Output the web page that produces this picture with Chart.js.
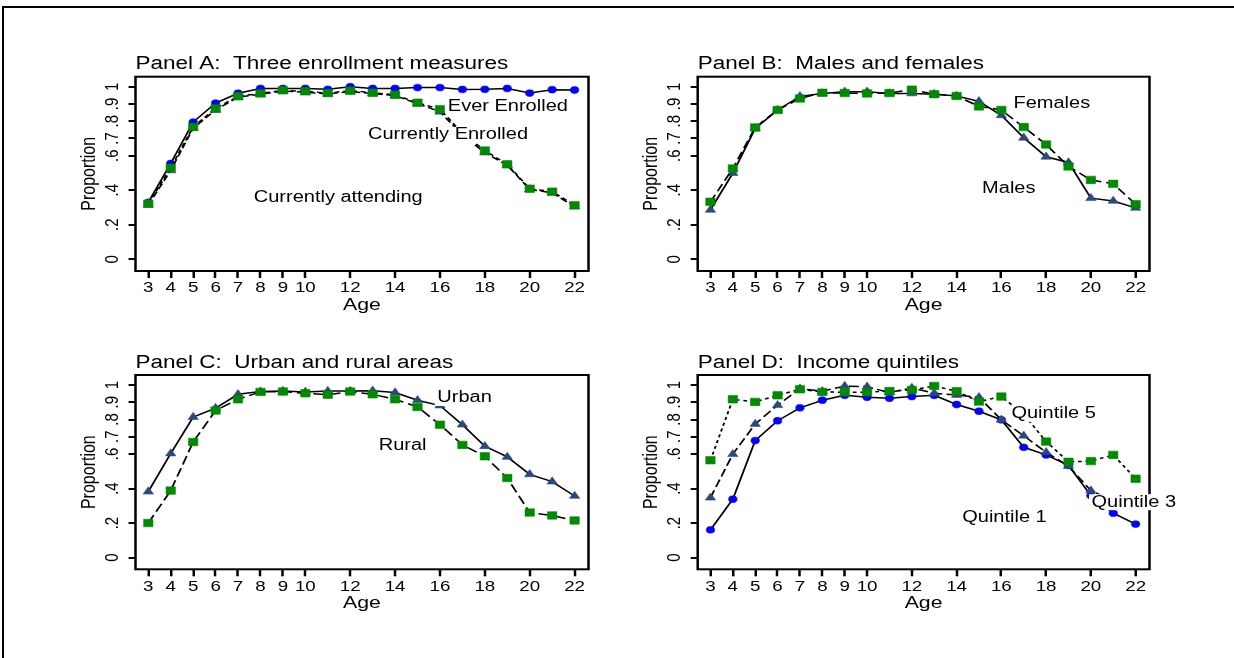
<!DOCTYPE html>
<html>
<head>
<meta charset="utf-8">
<script src="https://cdn.jsdelivr.net/npm/chart.js@4.4.1/dist/chart.umd.min.js"></script>
<style>
  html, body { margin: 0; padding: 0; background: #fff; }
  #wrap { position: relative; width: 1234px; height: 658px; overflow: hidden; background: #fff; }
  #frame { position: absolute; left: 2px; top: 6px; width: 1400px; height: 800px; border: 2px solid #000; box-sizing: border-box; }
  canvas { position: absolute; }
</style>
</head>
<body>
<div id="wrap">
  <div id="frame"></div>
  <canvas id="cA" width="617" height="300" style="left:0px;top:30px;width:617px;height:300px"></canvas>
  <canvas id="cB" width="617" height="300" style="left:617px;top:30px;width:617px;height:300px"></canvas>
  <canvas id="cC" width="617" height="300" style="left:0px;top:330px;width:617px;height:300px"></canvas>
  <canvas id="cD" width="617" height="300" style="left:617px;top:330px;width:617px;height:300px"></canvas>
</div>
<script>
// ---------------- data ----------------
const ages = [3, 4, 5, 6, 7, 8, 9, 10, 11, 12, 13, 14, 15, 16, 17, 18, 19, 20, 21, 22];
const xTicks = [3, 4, 5, 6, 7, 8, 9, 10, 12, 14, 16, 18, 20, 22];
const yTicks = [0, 0.2, 0.4, 0.6, 0.7, 0.8, 0.9, 1];

const titleA = 'Panel A:  Three enrollment measures';
const titleB = 'Panel B:  Males and females';
const titleC = 'Panel C:  Urban and rural areas';
const titleD = 'Panel D:  Income quintiles';

// Panel A
const everEnrolled       = [0.330, 0.555, 0.795, 0.905, 0.962, 0.990, 0.990, 0.990, 0.985, 1.000, 0.990, 0.990, 0.995, 0.995, 0.984, 0.985, 0.990, 0.963, 0.983, 0.981];
const currentlyEnrolled  = [0.315, 0.515, 0.760, 0.865, 0.940, 0.957, 0.975, 0.968, 0.958, 0.972, 0.960, 0.948, 0.902, 0.855, 0.720, 0.618, 0.545, 0.405, 0.385, 0.305];
const currentlyAttending = [0.322, 0.530, 0.767, 0.874, 0.944, 0.961, 0.979, 0.973, 0.963, 0.977, 0.965, 0.953, 0.907, 0.870, 0.730, 0.630, 0.550, 0.409, 0.392, 0.313];
// Panel B
const males   = [0.286, 0.499, 0.758, 0.865, 0.944, 0.961, 0.971, 0.971, 0.961, 0.961, 0.957, 0.946, 0.915, 0.834, 0.704, 0.594, 0.561, 0.354, 0.338, 0.298];
const females = [0.333, 0.526, 0.764, 0.865, 0.932, 0.965, 0.963, 0.961, 0.963, 0.983, 0.957, 0.946, 0.886, 0.865, 0.766, 0.665, 0.538, 0.460, 0.437, 0.319];
// Panel C
const urban = [0.382, 0.603, 0.814, 0.866, 0.946, 0.962, 0.965, 0.960, 0.965, 0.965, 0.967, 0.956, 0.912, 0.881, 0.770, 0.645, 0.583, 0.482, 0.440, 0.357];
const rural = [0.200, 0.388, 0.670, 0.852, 0.917, 0.960, 0.962, 0.952, 0.944, 0.962, 0.946, 0.917, 0.873, 0.770, 0.653, 0.587, 0.461, 0.261, 0.244, 0.215];
// Panel D
const quintile1 = [0.161, 0.338, 0.678, 0.793, 0.868, 0.912, 0.940, 0.929, 0.923, 0.933, 0.940, 0.887, 0.848, 0.798, 0.639, 0.595, 0.534, 0.359, 0.257, 0.194];
const quintile3 = [0.347, 0.599, 0.774, 0.883, 0.979, 0.964, 0.994, 0.990, 0.956, 0.983, 0.952, 0.942, 0.929, 0.798, 0.706, 0.610, 0.530, 0.388, 0.330, 0.310];
const quintile5 = [0.564, 0.917, 0.902, 0.940, 0.975, 0.960, 0.958, 0.958, 0.965, 0.971, 0.994, 0.964, 0.904, 0.933, 0.830, 0.672, 0.555, 0.559, 0.595, 0.457];

// ---------------- styling / layout ----------------
const FONT = "'Liberation Sans', Arial, Helvetica, sans-serif";
const K = 1.25;              // horizontal stretch of the original export
const BLUE = '#0000ff', NAVY = '#2b4a7c', GREEN = '#008a00';
const W = 617, H = 300;

const S_CIRCLE = (c) => ({ marker: 'circle', r: 3.4, color: c });
const S_TRI = (c) => ({ marker: 'triangle', r: 4.8, color: c });
const S_RECT = (c) => ({ marker: 'rect', r: 5.3, color: c });

const panels = [
  { id: 'cA', title: titleA, cl: 0, ct: 30, box: [135.5, 588.5, 76.7, 271], titleCY: 63.8,
    series: [
      Object.assign({ name: 'Ever Enrolled', values: everEnrolled, dash: [] }, S_CIRCLE(BLUE)),
      Object.assign({ name: 'Currently Enrolled', values: currentlyEnrolled, dash: [6, 3] }, S_TRI(NAVY)),
      Object.assign({ name: 'Currently attending', values: currentlyAttending, dash: [4, 3] }, S_RECT(GREEN))
    ],
    labels: [ { text: 'Ever Enrolled', x: 16.35, y: 0.885 }, { text: 'Currently Enrolled', x: 12.79, y: 0.720 }, { text: 'Currently attending', x: 7.70, y: 0.355 } ] },
  { id: 'cB', title: titleB, cl: 617, ct: 30, box: [697.7, 1149.5, 76.7, 271], titleCY: 63.8,
    series: [
      Object.assign({ name: 'Males', values: males, dash: [] }, S_TRI(NAVY)),
      Object.assign({ name: 'Females', values: females, dash: [8, 4] }, S_RECT(GREEN))
    ],
    labels: [ { text: 'Females', x: 16.54, y: 0.905 }, { text: 'Males', x: 15.14, y: 0.41 } ] },
  { id: 'cC', title: titleC, cl: 0, ct: 330, box: [135.5, 588.5, 375, 569.3], titleCY: 362.7,
    series: [
      Object.assign({ name: 'Urban', values: urban, dash: [] }, S_TRI(NAVY)),
      Object.assign({ name: 'Rural', values: rural, dash: [9, 4] }, S_RECT(GREEN))
    ],
    labels: [ { text: 'Urban', x: 15.88, y: 0.925 }, { text: 'Rural', x: 13.27, y: 0.651 } ] },
  { id: 'cD', title: titleD, cl: 617, ct: 330, box: [697.7, 1149.5, 375, 569.3], titleCY: 362.7,
    series: [
      Object.assign({ name: 'Quintile 1', values: quintile1, dash: [] }, S_CIRCLE(BLUE)),
      Object.assign({ name: 'Quintile 3', values: quintile3, dash: [8, 3.5] }, S_TRI(NAVY)),
      Object.assign({ name: 'Quintile 5', values: quintile5, dash: [3, 3] }, S_RECT(GREEN))
    ],
    labels: [ { text: 'Quintile 5', x: 16.45, y: 0.833 }, { text: 'Quintile 1', x: 14.25, y: 0.232 }, { text: 'Quintile 3', x: 20.03, y: 0.321 } ] }
];

function fmtY(v) {
  if (v === 0) return '0';
  if (v === 1) return '1';
  return String(v).replace(/^0/, '');
}

function makePlugin(labels) {
  return {
    id: 'stataLook',
    beforeDraw(chart) { chart.ctx.save(); chart.ctx.scale(K, 1); },
    afterDatasetsDraw(chart) {
      const { ctx, chartArea: a, scales } = chart;
      ctx.save();
      ctx.lineWidth = 2;
      ctx.strokeStyle = '#000';
      ctx.setLineDash([]);
      ctx.strokeRect(a.left, a.top, a.right - a.left, a.bottom - a.top);
      ctx.font = '16px ' + FONT;
      ctx.textAlign = 'left';
      ctx.textBaseline = 'middle';
      labels.forEach(l => {
        const px = scales.x.getPixelForValue(l.x);
        const py = scales.y.getPixelForValue(l.y);
        const tw = ctx.measureText(l.text).width;
        ctx.fillStyle = '#fff';
        ctx.fillRect(px - 2, py - 8, tw + 5, 16);
        ctx.fillStyle = '#000';
        ctx.fillText(l.text, px, py);
      });
      ctx.restore();
    },
    afterDraw(chart) { chart.ctx.restore(); }
  };
}

Chart.defaults.color = '#000';
Chart.defaults.font.family = FONT;

panels.forEach(p => {
  const chartLeftL = (p.box[0] - p.cl) / K;
  const chartRightL = (p.box[1] - p.cl) / K;
  const pr = W - chartRightL;
  const pl = chartLeftL - 46 / K - 9.6;
  const yAxisW = chartLeftL - pl;
  const pt = (p.titleCY - p.ct) - 10.8;
  const titlePadB = (p.box[2] - p.ct) - pt - 21.6;
  const xAxisH = 44.7;
  const pb = H - (p.box[3] - p.ct) - xAxisH;

  const datasets = p.series.map((s, i) => ({
    label: s.name,
    data: ages.map((a, j) => ({ x: a, y: s.values[j] })),
    borderColor: '#000',
    borderWidth: 1.5,
    borderDash: s.dash,
    pointStyle: s.marker,
    pointRadius: s.r,
    pointHoverRadius: s.r,
    pointBackgroundColor: s.color,
    pointBorderColor: s.color,
    pointBorderWidth: 0.5,
    tension: 0,
    fill: false,
    order: p.series.length - 1 - i
  }));

  const gridOpts = (tl) => ({
    display: true, drawOnChartArea: false, drawTicks: true,
    tickLength: tl, tickWidth: 2, tickColor: '#000', color: '#000', lineWidth: 2
  });

  new Chart(document.getElementById(p.id), {
    type: 'line',
    data: { datasets },
    options: {
      responsive: false,
      animation: false,
      devicePixelRatio: 1,
      events: [],
      layout: { padding: { left: pl, right: pr, top: pt, bottom: pb } },
      plugins: {
        legend: { display: false },
        tooltip: { enabled: false },
        title: {
          display: true, text: p.title, align: 'start', fullSize: false, color: '#000',
          font: { family: FONT, size: 18, weight: 'normal', lineHeight: 1.2 },
          padding: { top: 0, bottom: titlePadB }
        }
      },
      scales: {
        x: {
          type: 'linear', min: 2.43, max: 22.62,
          afterBuildTicks: s => { s.ticks = xTicks.map(v => ({ value: v })); },
          afterFit: s => { s.height = xAxisH; },
          ticks: { autoSkip: false, minRotation: 0, maxRotation: 0, padding: 1.3, color: '#000',
                   font: { family: FONT, size: 15, lineHeight: 1.2 }, callback: v => String(v) },
          grid: gridOpts(7),
          border: { display: false },
          title: { display: true, text: 'Age', color: '#000', font: { family: FONT, size: 17, lineHeight: 1.2 },
                   padding: { top: 0, bottom: 0 } }
        },
        y: {
          type: 'linear', min: -0.068, max: 1.058,
          afterBuildTicks: s => { s.ticks = yTicks.map(v => ({ value: v })); },
          afterFit: s => { s.width = yAxisW; },
          ticks: { autoSkip: false, minRotation: 90, maxRotation: 90, crossAlign: 'center', padding: 6.15, color: '#000',
                   font: { family: FONT, size: 15, lineHeight: 1.2 }, callback: v => fmtY(v) },
          grid: gridOpts(7 / K),
          border: { display: false },
          title: { display: true, text: 'Proportion', color: '#000', font: { family: FONT, size: 16, lineHeight: 1.2 },
                   padding: { top: 0, bottom: 0 } }
        }
      }
    },
    plugins: [makePlugin(p.labels)]
  });
});
</script>
</body>
</html>
